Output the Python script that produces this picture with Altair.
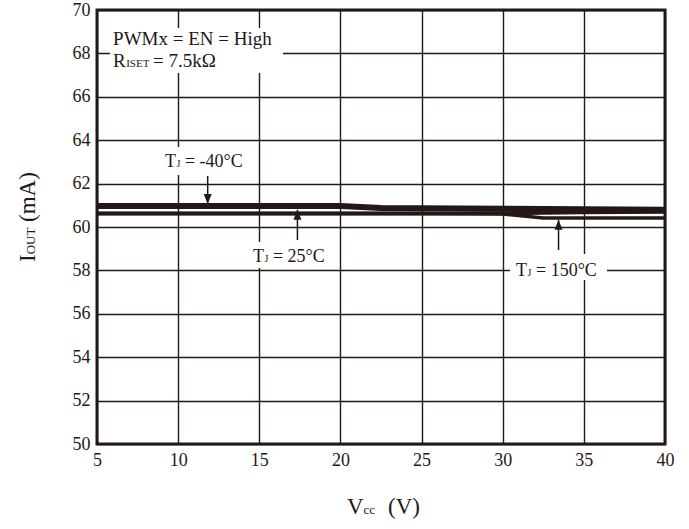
import altair as alt
import pandas as pd

# Supply voltage (V) and output current (mA) for three junction temperatures
vcc = [5, 10, 15, 20, 22.5, 25, 30, 32.5, 35, 40]
iout_m40 = [60.97, 60.97, 60.97, 60.97, 60.88, 60.86, 60.84, 60.83, 60.82, 60.80]
iout_25 = [60.62, 60.62, 60.62, 60.62, 60.62, 60.62, 60.63, 60.66, 60.68, 60.70]
iout_150 = [60.62, 60.62, 60.62, 60.62, 60.62, 60.62, 60.60, 60.42, 60.42, 60.42]

series_names = ["150", "25", "-40"]
series_values = [iout_150, iout_25, iout_m40]
series_widths = [3.5, 4, 6]

x_ticks = [5, 10, 15, 20, 25, 30, 35, 40]
y_ticks = [50, 52, 54, 56, 58, 60, 62, 64, 66, 68, 70]

INK = "#231815"
FONT = "Liberation Serif"
W, H = 568, 434

rows = []
for name, vals, w in zip(series_names, series_values, series_widths):
    for v, i in zip(vcc, vals):
        rows.append({"vcc": v, "iout": i, "tj": name, "w": w})
curves = pd.DataFrame(rows)

x_scale = alt.Scale(domain=[5, 40], nice=False, zero=False)
y_scale = alt.Scale(domain=[50, 70], nice=False, zero=False)

axis_common = dict(
    grid=True, gridColor=INK, gridWidth=1.4, gridOpacity=1,
    domain=False, ticks=False, labelFont=FONT, labelFontSize=18,
    labelColor=INK, labelPadding=7, title=None, labelFlush=False,
    labelOverlap=False,
)
x_axis = alt.Axis(values=x_ticks, **axis_common)
y_axis = alt.Axis(values=y_ticks, **axis_common)


def xq(field):
    return alt.X(field, type="quantitative", scale=x_scale, axis=x_axis)


def yq(field):
    return alt.Y(field, type="quantitative", scale=y_scale, axis=y_axis)


lines = alt.Chart(curves).mark_line(color=INK, strokeCap="butt").encode(
    x=xq("vcc"),
    y=yq("iout"),
    detail="tj:N",
    strokeWidth=alt.StrokeWidth("w:Q", scale=None),
    order=alt.Order("vcc:Q"),
)

# White boxes behind the annotations
boxes = pd.DataFrame({
    "x1": [5.80, 8.88, 13.81, 30.45],
    "x2": [16.46, 14.43, 19.85, 36.42],
    "y1": [69.17, 63.69, 59.31, 58.76],
    "y2": [67.10, 62.40, 58.11, 57.56],
})
box_layer = alt.Chart(boxes).mark_rect(color="white").encode(
    x=xq("x1"), x2="x2:Q", y=yq("y1"), y2="y2:Q",
)

# Annotation text pieces (subscripts are smaller pieces)
notes = pd.DataFrame({
    "x": [5.99, 5.99, 6.80, 8.45,
          9.19, 9.90, 10.42,
          14.61, 15.32, 15.84,
          30.82, 31.53, 32.05],
    "y": [68.41, 67.39, 67.39, 67.39,
          62.78, 62.78, 62.78,
          58.39, 58.39, 58.39,
          57.74, 57.74, 57.74],
    "t": ["PWMx = EN = High", "R", "ISET", "= 7.5kΩ",
          "T", "J", "= -40°C",
          "T", "J", "= 25°C",
          "T", "J", "= 150°C"],
    "s": [19, 19, 11, 19,
          18, 10, 18,
          18, 10, 18,
          18, 10, 18],
})
note_layer = alt.Chart(notes).mark_text(
    font=FONT, color=INK, align="left", baseline="alphabetic"
).encode(
    x=xq("x"), y=yq("y"),
    text="t:N",
    size=alt.Size("s:Q", scale=None),
)

# Arrows pointing at each curve
arrows = pd.DataFrame({
    "x": [11.82, 17.35, 33.44],
    "y_from": [62.35, 59.40, 58.94],
    "y_tip": [61.06, 60.80, 60.33],
    "dir": ["down", "up", "up"],
})
shafts = alt.Chart(arrows).mark_rule(color=INK, strokeWidth=1.5).encode(
    x=xq("x"), y=yq("y_from"), y2="y_tip:Q",
)
head_down = alt.Chart(arrows).transform_filter(alt.datum.dir == "down").mark_point(
    shape="M0,0L-0.8,-2L0.8,-2Z", filled=True, fill=INK, size=100, opacity=1
).encode(x=xq("x"), y=yq("y_tip"))
head_up = alt.Chart(arrows).transform_filter(alt.datum.dir == "up").mark_point(
    shape="M0,0L-0.8,2L0.8,2Z", filled=True, fill=INK, size=100, opacity=1
).encode(x=xq("x"), y=yq("y_tip"))


# Axis titles with subscripts, placed in pixels relative to the plot area
def title_piece(text, px, py, size, angle=0):
    mark = dict(font=FONT, color=INK, align="left", baseline="alphabetic",
                fontSize=size, text=text)
    if angle:
        mark["angle"] = angle
    return alt.Chart(curves).transform_filter("datum.vcc == 5 && datum.tj == '25'").mark_text(
        **mark).encode(x=alt.value(px), y=alt.value(py))


x_title = [
    title_piece("V", 250, 504, 23),
    title_piece("cc", 266.6, 504, 13),
    title_piece("(V)", 291, 504, 23),
]
y_title = [
    title_piece("I", -62, 252, 23, 270),
    title_piece("OUT", -62, 244.3, 13, 270),
    title_piece("(mA)", -62, 212, 23, 270),
]

chart = alt.layer(
    lines, box_layer, note_layer, shafts, head_down, head_up, *x_title, *y_title
).properties(
    width=W, height=H,
    autosize=alt.AutoSizeParams(type="none"),
    padding={"left": 97, "top": 10, "right": 24, "bottom": 85},
    background="white",
).configure_view(stroke=INK, strokeWidth=3)

chart.save("out.html", embed_options={"renderer": "svg", "actions": False})
